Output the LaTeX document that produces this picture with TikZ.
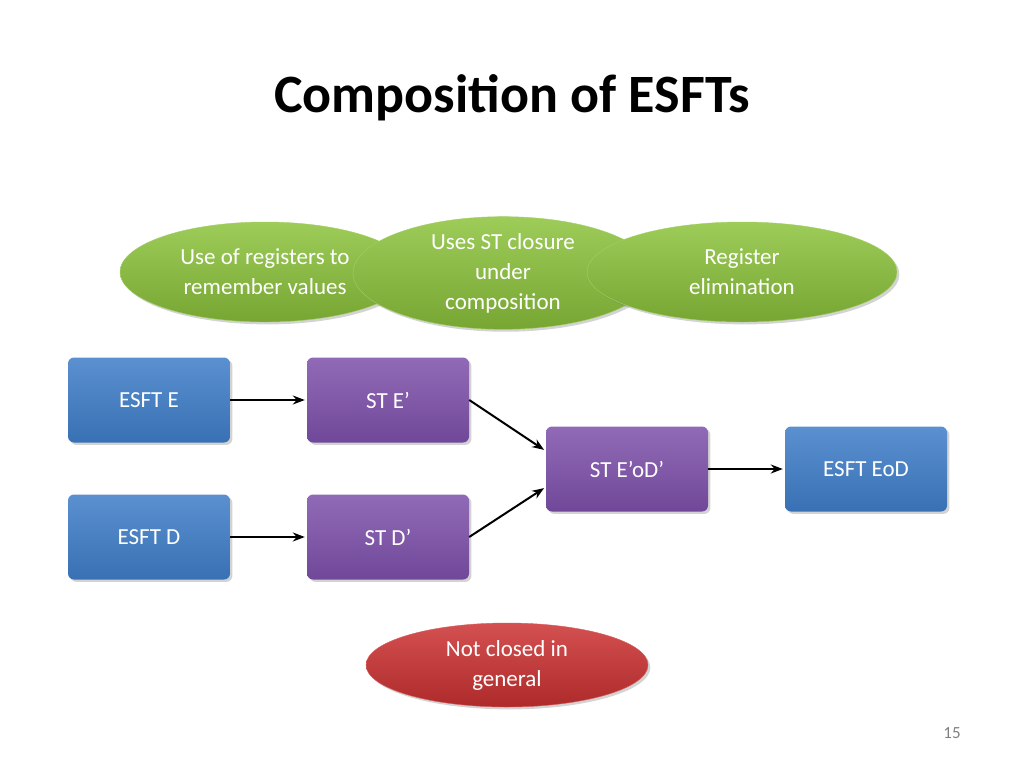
\documentclass[tikz,border=0pt]{standalone}
\usepackage{fontspec}
\setmainfont{Carlito}
\usetikzlibrary{shapes.geometric,arrows.meta,positioning,shadows}
\definecolor{esftblue}{RGB}{62,125,200}
\definecolor{stpurple}{RGB}{125,80,170}
\definecolor{notered}{RGB}{205,50,50}
\definecolor{notegreen}{RGB}{140,195,60}
\tikzset{
  box/.style={rounded corners=6pt, minimum width=162pt, minimum height=85pt,
    text=white, font=\fontsize{23}{30}\selectfont, drop shadow={opacity=0.35}},
  esft/.style={box, top color=esftblue!85!white, bottom color=esftblue!90!black},
  stbox/.style={box, top color=stpurple!85!white, bottom color=stpurple!90!black},
  note/.style={ellipse, text=white, align=center, font=\fontsize{23}{30}\selectfont,
    drop shadow={opacity=0.35}, inner sep=0pt},
  greennote/.style={note, top color=notegreen!85!white, bottom color=notegreen!85!black,
    draw=notegreen!80!white},
  arrow/.style={line width=2pt,-{Stealth[length=12pt,width=9pt]},shorten >=2pt}
}
\begin{document}
\begin{tikzpicture}[x=1pt,y=-1pt]
\useasboundingbox (0,0) rectangle (1024,768);
\node[font=\fontsize{54}{60}\selectfont\bfseries] (title) at (512,98) {Composition of ESFTs};
% notes on top
\node[greennote, minimum width=290pt, minimum height=100pt] (regs) at (265,272)
  {Use of registers to\\remember values};
\node[greennote, minimum width=300pt, minimum height=102pt] (closure) at (503,273)
  {Uses ST closure\\under\\composition};
\node[greennote, minimum width=310pt, minimum height=100pt] (elim) at (742,272)
  {Register\\elimination};
% boxes
\node[esft] (esfte) at (149,400) {ESFT E};
\node[stbox] (ste) at (388,400) {ST E’};
\node[esft] (esftd) at (149,537) {ESFT D};
\node[stbox] (std) at (388,537) {ST D’};
\node[stbox] (steod) at (627,469) {ST E’oD’};
\node[esft] (esfteod) at (866,469) {ESFT EoD};
\draw[arrow] (esfte.east) -- (ste.west);
\draw[arrow] (esftd.east) -- (std.west);
\draw[arrow] (ste.east) -- ([yshift=18pt]steod.west);
\draw[arrow] (std.east) -- ([yshift=-18pt]steod.west);
\draw[arrow] (steod.east) -- (esfteod.west);
% bottom note
\node[note, minimum width=282pt, minimum height=84pt, top color=notered!85!white,
  bottom color=notered!85!black, draw=notered!80!white] (notclosed) at (507,665)
  {Not closed in\\general};
\node[text=gray, font=\fontsize{17}{20}\selectfont] (page) at (952,733) {15};
\end{tikzpicture}
\end{document}
